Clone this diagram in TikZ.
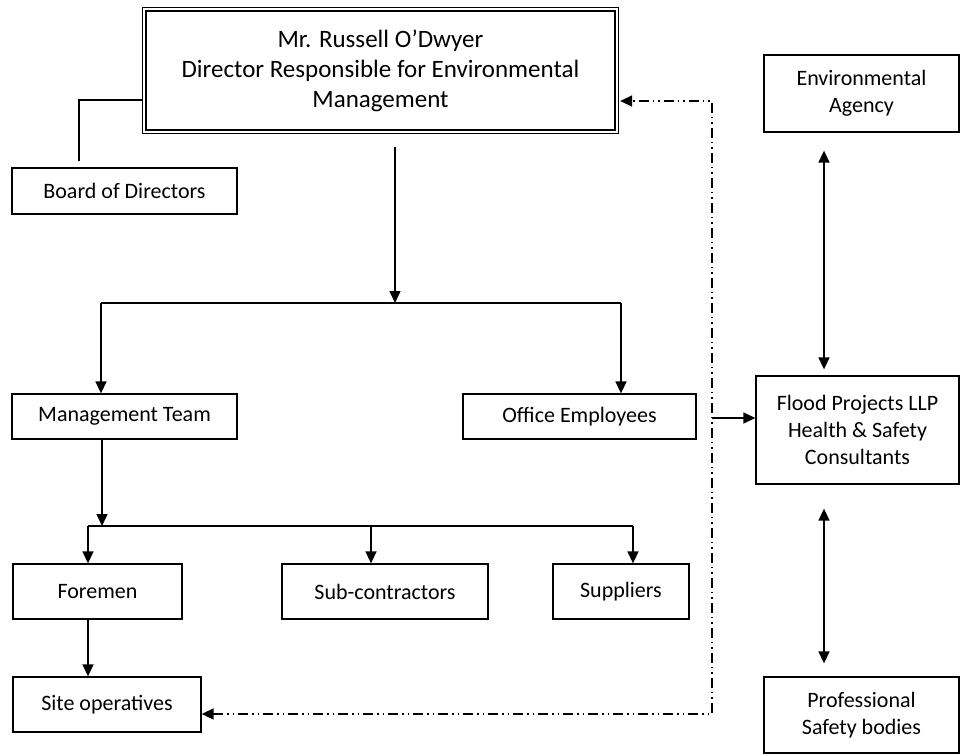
\documentclass[tikz,border=0pt]{standalone}
\usepackage{fontspec}
\setmainfont{Carlito}
\usetikzlibrary{arrows.meta}
\begin{document}
\begin{tikzpicture}[x=1bp,y=-1bp,
  box/.style={draw,line width=1.3bp,inner sep=0pt,align=center,font=\fontsize{22bp}{27bp}\selectfont},
  topbox/.style={draw,line width=1.3bp,double,double distance=2bp,inner sep=0pt,align=center,font=\fontsize{25bp}{30bp}\selectfont},
  ln/.style={line width=1.5bp},
  tip/.tip={Triangle[length=12bp,width=11bp]},
  arr/.style={ln,-tip},
  darr/.style={ln,tip-tip},
  dd/.style={ln,dash pattern=on 10bp off 4bp on 1.5bp off 4bp on 1.5bp off 4bp}]
\useasboundingbox[fill=white] (0,0) rectangle (963,756);

% nodes
\node[topbox,minimum width=472bp,minimum height=122bp] (top) at (380.5,70.5)
  {Mr. Russell O’Dwyer\\Director Responsible for Environmental\\Management};
\node[box,minimum width=225bp,minimum height=46bp] (board) at (124.5,191) {Board of Directors};
\node[box,minimum width=225bp,minimum height=45bp] (mt) at (124.5,416.5) {Management Team};
\node[box,minimum width=233bp,minimum height=45bp] (office) at (579.5,416.5) {Office Employees};
\node[box,minimum width=169bp,minimum height=55bp] (foremen) at (97.5,591.5) {Foremen};
\node[box,minimum width=206bp,minimum height=55bp] (sub) at (385,591.5) {Sub-contractors};
\node[box,minimum width=136bp,minimum height=55bp] (supp) at (621,591.5) {Suppliers};
\node[box,minimum width=188bp,minimum height=55bp] (site) at (107,704.5) {Site operatives};
\node[box,minimum width=195bp,minimum height=77bp] (env) at (861.5,93.5) {Environmental\\Agency};
\node[box,minimum width=203bp,minimum height=108bp] (flood) at (857.5,430) {Flood Projects LLP\\Health \& Safety\\Consultants};
\node[box,minimum width=195bp,minimum height=76bp] (prof) at (861.5,715) {Professional\\Safety bodies};

% coordinates
\coordinate (bt) at (79,161);
\coordinate (bl) at (79,100);
\coordinate (m1) at (395,147);
\coordinate (h1) at (395,303);
\coordinate (hL) at (101,303);
\coordinate (hR) at (621,303);
\coordinate (q) at (102,526);
\coordinate (h2L) at (88,526);
\coordinate (h2M) at (371,526);
\coordinate (h2R) at (633,526);
\coordinate (dT) at (712,101);
\coordinate (dB) at (712,714);
\coordinate (dM) at (712,418);
\coordinate (ax) at (824,0);

% connectors
\draw[ln] (bt) -- (bl) -- ([xshift=-2bp]top.west |- bl);
\draw[arr] (m1) -- (h1);
\draw[ln] (hL) -- (hR);
\draw[arr] (hL) -- (hL |- mt.north);
\draw[arr] (hR) -- (hR |- office.north);
\draw[arr] (q |- mt.south) -- (q);
\draw[ln] (h2L) -- (h2R);
\draw[arr] (h2L) -- (h2L |- foremen.north);
\draw[arr] (h2M) -- (h2M |- sub.north);
\draw[arr] (h2R) -- (h2R |- supp.north);
\draw[arr] (h2L |- foremen.south) -- (h2L |- site.north);
\draw[dd,tip-tip] (site.east |- dB) -- (dB) -- (dT) -- ([xshift=3bp]top.east |- dT);
\draw[arr] (dM) -- (flood.west |- dM);
\draw[darr] ([yshift=-18bp]env.south -| ax) -- ([yshift=6bp]flood.north -| ax);
\draw[darr] ([yshift=-24bp]flood.south -| ax) -- ([yshift=13bp]prof.north -| ax);
\end{tikzpicture}
\end{document}
